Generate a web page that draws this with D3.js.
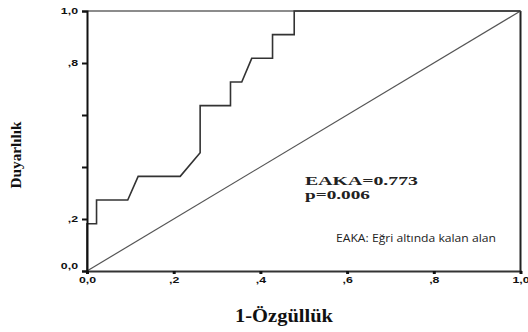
<!DOCTYPE html>
<html lang="tr">

<head>
    <meta charset="UTF-8">
    <title>ROC</title>
    <script type="text/javascript" src="https://cdnjs.cloudflare.com/ajax/libs/d3/7.8.5/d3.min.js"></script>
    <style>
        body { margin: 0; background: #fff; }
    </style>
</head>

<body>

    <div id="displayhere"></div>

    <script>
        // ROC curve points (1-specificity, sensitivity)
        var fpr = [0, 0, 0.022, 0.022, 0.094, 0.118, 0.215, 0.261, 0.261, 0.331, 0.331, 0.357, 0.380, 0.428, 0.428, 0.478, 0.478, 1];
        var tpr = [0, 0.182, 0.182, 0.273, 0.273, 0.364, 0.364, 0.455, 0.636, 0.636, 0.727, 0.727, 0.818, 0.818, 0.909, 0.909, 1, 1];

        // reference line
        var refX = [0, 1];
        var refY = [0, 1];

        // ticks
        var xTicks = [0, 0.2, 0.4, 0.6, 0.8, 1];
        var xTickLabels = ["0,0", ",2", ",4", ",6", ",8", "1,0"];
        var yTicks = [0, 0.2, 0.4, 0.6, 0.8, 1];
        var yTickLabels = ["0,0", ",2", "", "", ",8", "1,0"];

        var w = 528;
        var h = 332;

        var x = d3.scaleLinear().domain([0, 1]).range([87, 520.5]);
        var y = d3.scaleLinear().domain([0, 1]).range([271, 11]);

        var svg = d3.select('#displayhere')
            .append("svg")
            .attr("width", w)
            .attr("height", h);

        // frame top and right
        svg.append("line")
            .attr("x1", x(0)).attr("x2", x(1))
            .attr("y1", y(1)).attr("y2", y(1))
            .attr("stroke", "#666").attr("stroke-width", 1.5);
        svg.append("line")
            .attr("x1", x(1)).attr("x2", x(1))
            .attr("y1", y(1)).attr("y2", y(0))
            .attr("stroke", "#222").attr("stroke-width", 2);

        // diagonal
        var line = d3.line()
            .x(function(d) { return x(d[0]); })
            .y(function(d) { return y(d[1]); });

        svg.append("path")
            .datum(d3.zip(refX, refY))
            .attr("d", line)
            .attr("fill", "none")
            .attr("stroke", "#555")
            .attr("stroke-width", 1.2);

        // curve
        svg.append("path")
            .datum(d3.zip(fpr, tpr))
            .attr("d", line)
            .attr("fill", "none")
            .attr("stroke", "#333")
            .attr("stroke-width", 1.6);

        // axes
        var xAxis = d3.axisBottom(x)
            .tickValues(xTicks)
            .tickSize(3)
            .tickPadding(3)
            .tickFormat(function(d, i) { return xTickLabels[i]; });

        var yAxis = d3.axisLeft(y)
            .tickValues(yTicks)
            .tickSize(5)
            .tickPadding(4)
            .tickFormat(function(d, i) { return yTickLabels[i]; });

        var gx = svg.append("g")
            .attr("transform", "translate(0," + y(0) + ")")
            .call(xAxis);
        var gy = svg.append("g")
            .attr("transform", "translate(" + x(0) + ",0)")
            .call(yAxis);

        gx.select(".domain").attr("stroke", "#333").attr("stroke-width", 1.8);
        gy.select(".domain").attr("stroke", "#111").attr("stroke-width", 2);
        gx.selectAll(".tick line").attr("stroke", "#111").attr("stroke-width", 3);
        gy.selectAll(".tick line").attr("stroke", "#111").attr("stroke-width", 2);

        // tick labels are small and wide in the original
        svg.selectAll(".tick text")
            .attr("font-family", "Liberation Sans, Arial, sans-serif")
            .attr("font-size", "8.5px")
            .attr("font-weight", "bold")
            .attr("fill", "#111")
            .each(function() {
                var len = this.getComputedTextLength();
                if (len > 0) {
                    d3.select(this)
                        .attr("textLength", len * 1.45)
                        .attr("lengthAdjust", "spacingAndGlyphs");
                }
            });

        // lift the 0,0 label on the y axis
        gy.selectAll(".tick").filter(function(d) { return d === 0; })
            .select("text").attr("dy", "-0.3em");

        // axis titles
        svg.append("text")
            .attr("transform", "translate(21,155) rotate(-90)")
            .attr("text-anchor", "middle")
            .attr("font-family", "Liberation Serif, Times New Roman, serif")
            .attr("font-weight", "bold")
            .attr("font-size", "15px")
            .attr("fill", "#111")
            .attr("textLength", 67)
            .attr("lengthAdjust", "spacingAndGlyphs")
            .text("Duyarlılık");

        svg.append("text")
            .attr("x", 235)
            .attr("y", 322)
            .attr("font-family", "Liberation Serif, Times New Roman, serif")
            .attr("font-weight", "bold")
            .attr("font-size", "19px")
            .attr("fill", "#111")
            .attr("textLength", 98)
            .attr("lengthAdjust", "spacingAndGlyphs")
            .text("1-Özgüllük");

        // annotation
        svg.append("text")
            .attr("x", 305)
            .attr("y", 185)
            .attr("font-family", "Liberation Serif, Times New Roman, serif")
            .attr("font-weight", "bold")
            .attr("font-size", "12.5px")
            .attr("fill", "#222")
            .attr("textLength", 113)
            .attr("lengthAdjust", "spacingAndGlyphs")
            .text("EAKA=0.773");

        svg.append("text")
            .attr("x", 305)
            .attr("y", 199)
            .attr("font-family", "Liberation Serif, Times New Roman, serif")
            .attr("font-weight", "bold")
            .attr("font-size", "12px")
            .attr("fill", "#222")
            .attr("textLength", 65)
            .attr("lengthAdjust", "spacingAndGlyphs")
            .text("p=0.006");

        svg.append("text")
            .attr("x", 336)
            .attr("y", 242)
            .attr("font-family", "Open Sans, sans-serif")
            .attr("font-size", "10px")
            .attr("fill", "#222")
            .attr("textLength", 160)
            .attr("lengthAdjust", "spacingAndGlyphs")
            .text("EAKA: Eğri altında kalan alan");
    </script>

</body>

</html>
